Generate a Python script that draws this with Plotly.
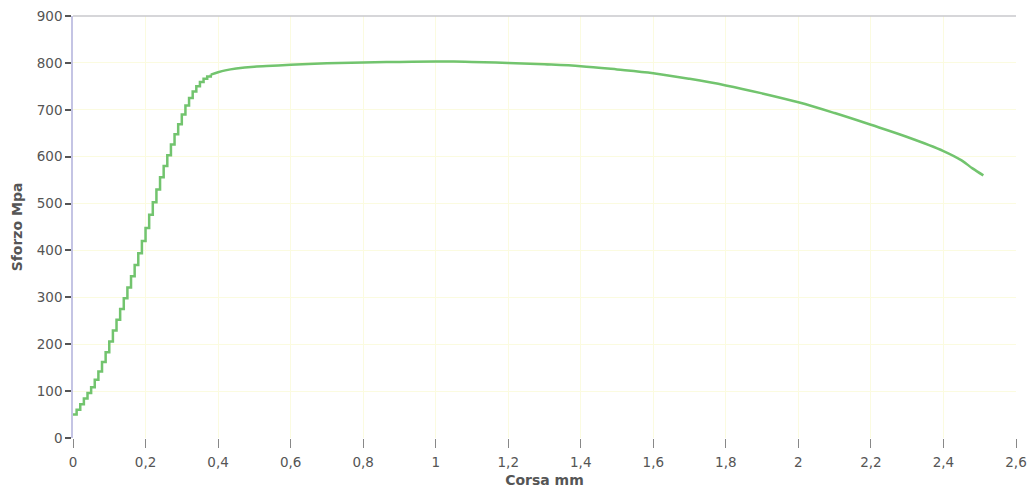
import plotly.graph_objects as go

# Elastic (stepped) part of the curve: Corsa mm vs Sforzo MPa
corsa_elastic = [0.00, 0.01, 0.02, 0.03, 0.04, 0.05, 0.06, 0.07, 0.08, 0.09,
                 0.10, 0.11, 0.12, 0.13, 0.14, 0.15, 0.16, 0.17, 0.18, 0.19,
                 0.20, 0.21, 0.22, 0.23, 0.24, 0.25, 0.26, 0.27, 0.28, 0.29,
                 0.30, 0.31, 0.32, 0.33, 0.34, 0.35, 0.36, 0.37, 0.38]
sforzo_elastic = [50, 60, 72, 84, 96, 108, 124, 142, 162, 183,
                  206, 229, 252, 275, 298, 321, 345, 369, 394, 420,
                  448, 476, 503, 530, 556, 580, 603, 626, 648, 669,
                  690, 709, 725, 739, 750, 759, 766, 771, 775]

# Plastic (smooth) part of the curve
corsa_plastic = [0.38, 0.40, 0.42, 0.45, 0.50, 0.55, 0.60, 0.70, 0.80, 0.90,
                 1.00, 1.05, 1.10, 1.20, 1.30, 1.40, 1.50, 1.60, 1.70, 1.80,
                 1.90, 2.00, 2.10, 2.20, 2.30, 2.40, 2.45, 2.48, 2.51]
sforzo_plastic = [775, 780, 784, 788, 792, 794, 796, 799, 801, 802,
                  803, 803, 802, 800, 797, 793, 786, 778, 766, 752,
                  735, 716, 693, 668, 642, 612, 592, 575, 560]

x_ticks = [0, 0.2, 0.4, 0.6, 0.8, 1.0, 1.2, 1.4, 1.6, 1.8, 2.0, 2.2, 2.4, 2.6]
x_ticklabels = ["0", "0,2", "0,4", "0,6", "0,8", "1", "1,2", "1,4", "1,6",
                "1,8", "2", "2,2", "2,4", "2,6"]
y_ticks = [0, 100, 200, 300, 400, 500, 600, 700, 800, 900]

green = "#72c46e"

fig = go.Figure()
fig.add_trace(go.Scatter(x=corsa_elastic, y=sforzo_elastic, mode="lines",
                         line=dict(color=green, width=2.5, shape="hv"),
                         showlegend=False, hoverinfo="skip"))
fig.add_trace(go.Scatter(x=corsa_plastic, y=sforzo_plastic, mode="lines",
                         line=dict(color=green, width=2.5, shape="spline"),
                         showlegend=False, hoverinfo="skip"))

grid = "#fbfbe0"
font_col = "#555555"
fig.update_layout(
    width=1032, height=488,
    margin=dict(l=73, r=16, t=16, b=50, autoexpand=False),
    paper_bgcolor="white", plot_bgcolor="white",
    font=dict(family="DejaVu Sans", size=13.5, color=font_col),
    xaxis=dict(range=[0, 2.6], tickvals=x_ticks, ticktext=x_ticklabels,
               automargin=False,
               showgrid=True, gridcolor=grid, gridwidth=1,
               zeroline=False, showline=False,
               ticks="outside", ticklen=9, tickcolor="#888888", tickwidth=1,
               ticklabelstandoff=3,
               title=dict(text="<b>Corsa mm</b>", standoff=9,
                          font=dict(size=14, color=font_col))),
    yaxis=dict(range=[0, 900], tickvals=y_ticks,
               automargin=False,
               showgrid=True, gridcolor=grid, gridwidth=1,
               zeroline=False, showline=True, linecolor="#c4c4e4", linewidth=1.5,
               ticks="outside", ticklen=6, tickcolor="#555555", tickwidth=1.5,
               title=dict(text="<b>Sforzo Mpa</b>", standoff=11,
                          font=dict(size=14, color=font_col))),
    shapes=[dict(type="line", xref="paper", yref="paper", x0=0, x1=1, y0=1, y1=1,
                 line=dict(color="#c8c8cc", width=1.5))],
)

fig.write_html("out.html",
               config={"displayModeBar": False},
               post_script="document.body.style.margin='0';document.body.style.overflow='hidden';")
